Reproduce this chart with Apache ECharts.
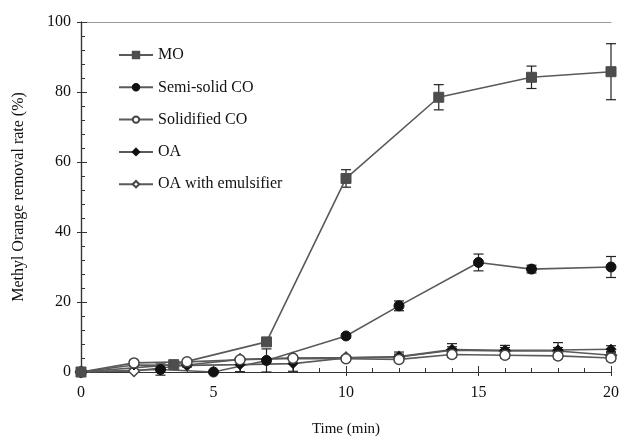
<!DOCTYPE html>
<html>
<head>
<meta charset="utf-8">
<script src="https://cdn.jsdelivr.net/npm/echarts@6/dist/echarts.min.js"></script>
<style>html,body{margin:0;padding:0;background:#fff}#c{width:628px;height:443px}</style>
</head>
<body>
<div id="c"></div>
<script>
// ---- data ----
const moX = [0, 3.5, 7, 10, 13.5, 17, 20];
const moY = [0, 2.1, 8.6, 55.3, 78.5, 84.2, 85.8];
const moErr = [0, 0.5, 1.0, 2.5, 3.6, 3.2, 8.0];

const semiX = [0, 3, 5, 7, 10, 12, 15, 17, 20];
const semiY = [0, 0.7, 0, 3.3, 10.3, 18.9, 31.3, 29.4, 30.0];
const semiErr = [0, 1.6, 0, 3.3, 0.6, 1.4, 2.4, 1.1, 3.0];

const evenX = [0, 2, 4, 6, 8, 10, 12, 14, 16, 18, 20];
const solidY = [0, 2.6, 2.9, 3.5, 3.9, 3.8, 3.6, 5.0, 4.8, 4.6, 4.0];
const solidErr = [0, 0.3, 0.3, 0.3, 0.3, 0.3, 0.5, 0.8, 0.8, 0.8, 0.8];
const oaY = [0, 2.0, 1.9, 2.1, 2.4, 4.0, 4.4, 6.4, 6.2, 6.3, 6.5];
const oaErr = [0, 0.3, 0.5, 2.0, 2.2, 0.5, 1.3, 1.7, 1.4, 2.1, 1.0];
const emulY = [0, 0.3, 2.0, 3.6, 4.0, 4.1, 4.3, 6.2, 6.0, 6.0, 4.8];
const emulErr = [0, 0.3, 0.3, 0.5, 0.5, 0.5, 0.8, 1.0, 1.0, 1.0, 1.0];

const seriesNames = ['MO', 'Semi-solid CO', 'Solidified CO', 'OA', 'OA with emulsifier'];
const xTicks = [0, 5, 10, 15, 20];
const yTicks = [0, 20, 40, 60, 80, 100];

// ---- helpers ----
const FONT = 'Liberation Serif';
const LINE = '#5a5a5a';
function pts(xs, ys) { return xs.map((x, i) => [x, ys[i]]); }
function errPts(xs, ys, es) { return xs.map((x, i) => [x, ys[i], es[i]]); }

function errSeries(data) {
  return {
    type: 'custom',
    silent: true,
    z: 1,
    data: data,
    renderItem: function (params, api) {
      const x = api.value(0), y = api.value(1), e = api.value(2);
      if (!e) return null;
      const top = api.coord([x, y + e]);
      const bot = api.coord([x, y - e]);
      const w = 5;
      const st = { stroke: '#222', lineWidth: 1.2 };
      return {
        type: 'group',
        children: [
          { type: 'line', shape: { x1: top[0], y1: top[1], x2: bot[0], y2: bot[1] }, style: st },
          { type: 'line', shape: { x1: top[0] - w, y1: top[1], x2: top[0] + w, y2: top[1] }, style: st },
          { type: 'line', shape: { x1: bot[0] - w, y1: bot[1], x2: bot[0] + w, y2: bot[1] }, style: st }
        ]
      };
    }
  };
}

function lineSeries(name, data, symbol, fill, size) {
  return {
    name: name,
    type: 'line',
    data: data,
    symbol: symbol,
    symbolSize: size,
    showAllSymbol: true,
    z: 3,
    lineStyle: { color: LINE, width: 1.6 },
    itemStyle: { color: fill, borderColor: fill === '#fff' ? '#444' : fill, borderWidth: fill === '#fff' ? 1.5 : 1, opacity: 1 },
    emphasis: { disabled: true },
    animation: false
  };
}

const axisCommon = {
  type: 'value',
  axisLine: { show: true, lineStyle: { color: '#333', width: 1.2 } },
  splitLine: { show: false }
};

const chart = echarts.init(document.getElementById('c'), null, { renderer: 'canvas' });
chart.setOption({
  animation: false,
  backgroundColor: '#fff',
  grid: { left: 81, right: 17, top: 22, bottom: 71, containLabel: false },
  legend: {
    orient: 'vertical',
    left: 113,
    top: 42,
    itemWidth: 34,
    itemHeight: 8,
    itemGap: 16.3,
    data: seriesNames,
    textStyle: { fontFamily: FONT, fontSize: 16, color: '#111' },
    selectedMode: false
  },
  xAxis: [
    Object.assign({}, axisCommon, {
      min: 0, max: 20, interval: 5,
      name: 'Time (min)', nameLocation: 'middle', nameGap: 50,
      nameTextStyle: { fontFamily: FONT, fontSize: 15, color: '#111' },
      axisTick: { show: true, inside: false, length: 4, lineStyle: { color: '#333' } },
      axisLabel: { fontFamily: FONT, fontSize: 16, color: '#111', margin: 13,
        formatter: v => xTicks.indexOf(v) >= 0 ? String(v) : '' }
    }),
    Object.assign({}, axisCommon, {
      min: 0, max: 20, interval: 5, position: 'bottom',
      axisTick: { show: true, inside: true, length: 6, lineStyle: { color: '#333' } },
      minorTick: { show: true, splitNumber: 5, length: 4, lineStyle: { color: '#333' } },
      axisLabel: { show: false }
    }),
    {
      type: 'value', min: 0, max: 20, position: 'top',
      axisLine: { show: true, lineStyle: { color: '#999', width: 1.2 } },
      axisTick: { show: false }, axisLabel: { show: false }, splitLine: { show: false }
    }
  ],
  yAxis: [
    Object.assign({}, axisCommon, {
      min: 0, max: 100, interval: 20,
      name: 'Methyl Orange removal rate (%)', nameLocation: 'middle', nameGap: 54,
      nameTextStyle: { fontFamily: FONT, fontSize: 16, color: '#111' },
      axisTick: { show: true, inside: false, length: 4, lineStyle: { color: '#333' } },
      axisLabel: { fontFamily: FONT, fontSize: 16, color: '#111', margin: 10,
        formatter: v => yTicks.indexOf(v) >= 0 ? String(v) : '' }
    }),
    Object.assign({}, axisCommon, {
      min: 0, max: 100, interval: 20, position: 'left',
      axisTick: { show: true, inside: true, length: 6, lineStyle: { color: '#333' } },
      minorTick: { show: true, splitNumber: 5, length: 4, lineStyle: { color: '#333' } },
      axisLabel: { show: false }
    })
  ],
  series: [
    errSeries(errPts(moX, moY, moErr)),
    errSeries(errPts(semiX, semiY, semiErr)),
    errSeries(errPts(evenX, solidY, solidErr)),
    errSeries(errPts(evenX, oaY, oaErr)),
    errSeries(errPts(evenX, emulY, emulErr)),
    lineSeries(seriesNames[4], pts(evenX, emulY), 'diamond', '#fff', 11),
    lineSeries(seriesNames[3], pts(evenX, oaY), 'diamond', '#111', 10),
    lineSeries(seriesNames[2], pts(evenX, solidY), 'circle', '#fff', 10),
    lineSeries(seriesNames[1], pts(semiX, semiY), 'circle', '#111', 10),
    lineSeries(seriesNames[0], pts(moX, moY), 'rect', '#4d4d4d', 10)
  ]
});
</script>
</body>
</html>
